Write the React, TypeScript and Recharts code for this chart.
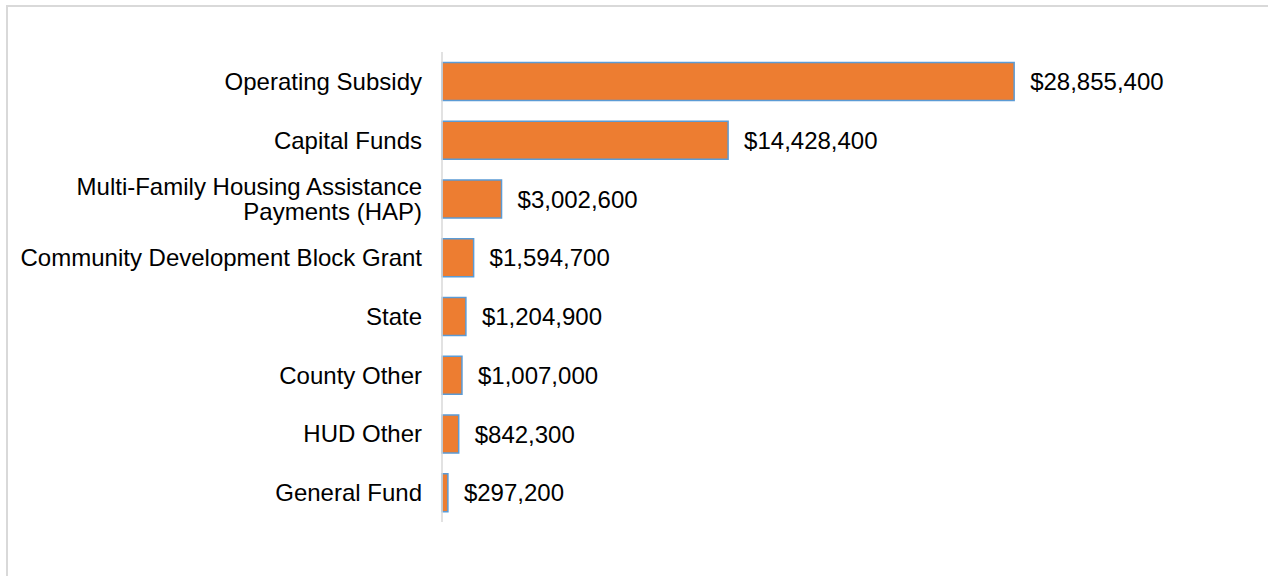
import { BarChart, Bar, XAxis, YAxis, LabelList } from "recharts";

// Funding sources and amounts (USD)
const sources = [
  "Operating Subsidy",
  "Capital Funds",
  "Multi-Family Housing Assistance Payments (HAP)",
  "Community Development Block Grant",
  "State",
  "County Other",
  "HUD Other",
  "General Fund",
];
const amounts = [28855400, 14428400, 3002600, 1594700, 1204900, 1007000, 842300, 297200];

const chartData = sources.map((name, i) => ({ name, amount: amounts[i] }));

const FONT = "'Liberation Sans', Arial, sans-serif";

const fmtMoney = (v: any) => "$" + Number(v).toLocaleString("en-US");

// wrap long category names onto two lines like the original
const wrapWords = (text: string, maxChars: number) => {
  const lines: string[] = [];
  let cur = "";
  text.split(" ").forEach((w) => {
    if (cur && (cur + " " + w).length > maxChars) {
      lines.push(cur);
      cur = w;
    } else {
      cur = cur ? cur + " " + w : w;
    }
  });
  if (cur) lines.push(cur);
  return lines;
};

const CategoryTick = (props: any) => {
  const { x, y, payload } = props;
  const lines = wrapWords(payload.value, 33);
  const lh = 25;
  const startY = y - ((lines.length - 1) * lh) / 2;
  return (
    <text x={x} y={startY} textAnchor="end" fontSize={24} fontFamily={FONT} fill="#000">
      {lines.map((l, i) => (
        <tspan key={i} x={x} dy={i === 0 ? "0.355em" : lh}>
          {l}
        </tspan>
      ))}
    </text>
  );
};

const App = () => {
  return (
    <div style={{ position: "absolute", left: 0, top: 0, width: 1268, height: 576, overflow: "hidden", background: "#fff" }}>
      <div
        style={{
          position: "absolute",
          left: 6,
          top: 5,
          width: 1300,
          height: 620,
          border: "2px solid #d9d9d9",
          boxSizing: "border-box",
        }}
      />
      <div style={{ position: "absolute", left: 0, top: 0 }}>
        <BarChart
          width={1268}
          height={576}
          data={chartData}
          layout="vertical"
          margin={{ top: 52, right: 132, bottom: 54, left: 0 }}
          barCategoryGap="18%"
        >
          <XAxis type="number" domain={[0, 35000000]} hide />
          <YAxis
            type="category"
            dataKey="name"
            width={442}
            axisLine={{ stroke: "#d9d9d9", strokeWidth: 1.5 }}
            tickLine={false}
            tickSize={0}
            tickMargin={20}
            tick={<CategoryTick />}
            interval={0}
          />
          <Bar dataKey="amount" fill="#ED7D31" stroke="#5B9BD5" strokeWidth={1.5} isAnimationActive={false}>
            <LabelList
              dataKey="amount"
              position="right"
              offset={16}
              formatter={fmtMoney}
              style={{ fontSize: 24, fontFamily: FONT, fill: "#000" }}
            />
          </Bar>
        </BarChart>
      </div>
    </div>
  );
};

export default App;
